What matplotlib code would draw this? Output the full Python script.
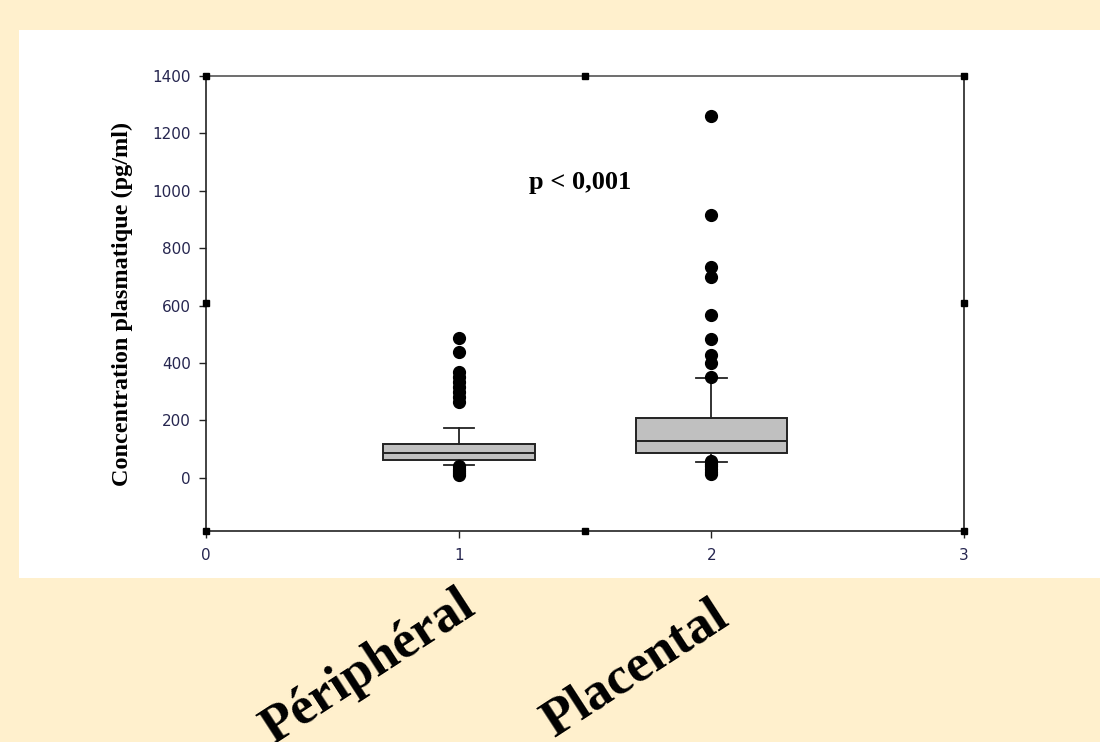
import numpy as np
import matplotlib
matplotlib.use("Agg")
import matplotlib.pyplot as plt
from matplotlib.patches import Rectangle

# data (pg/ml)
groups = ["Périphéral", "Placental"]
positions = [1, 2]
q1 = [63, 86]
med = [86, 129]
q3 = [118, 208]
whis_lo = [44, 55]
whis_hi = [175, 347]
fliers_per = [487, 438, 370, 352, 335, 318, 300, 283, 266, 40, 32, 25, 18, 10]
fliers_pla = [1259, 916, 736, 701, 568, 483, 429, 400, 353, 60, 50, 40, 30, 22, 15]
yticks = [0, 200, 400, 600, 800, 1000, 1200, 1400]
xticks = [0, 1, 2, 3]
ptext = "p < 0,001"

cream = "#FFF0CD"
tick_col = "#262650"

fig = plt.figure(figsize=(11, 7.42), dpi=100)
fig.patch.set_facecolor(cream)
# white panel behind the plot
fig.patches.append(Rectangle((0.0173, 0.221), 1.0, 0.7386, transform=fig.transFigure,
                             facecolor="white", edgecolor="none", zorder=-10))

ax = fig.add_axes([0.1873, 0.2844, 0.6891, 0.6132])
ax.set_facecolor("white")

stats = []
fl = [fliers_per, fliers_pla]
for i in range(2):
    stats.append(dict(med=med[i], q1=q1[i], q3=q3[i], whislo=whis_lo[i],
                      whishi=whis_hi[i], fliers=fl[i], label=groups[i]))

ax.bxp(stats, positions=positions, widths=0.6, capwidths=0.12, patch_artist=True,
       boxprops=dict(facecolor="#C0C0C0", edgecolor="#222222", linewidth=1.4),
       medianprops=dict(color="#222222", linewidth=1.4),
       whiskerprops=dict(color="#222222", linewidth=1.3),
       capprops=dict(color="#222222", linewidth=1.3),
       flierprops=dict(marker="o", markerfacecolor="black", markeredgecolor="black",
                       markersize=8.5))

ax.set_xlim(0, 3)
ax.set_ylim(-185, 1400)
ax.set_xticks(xticks)
ax.set_xticklabels([str(x) for x in xticks])
ax.set_yticks(yticks)
ax.set_yticklabels([str(y) for y in yticks])
ax.tick_params(direction="out", length=5, width=1, colors="#222222",
               labelcolor=tick_col, labelsize=11)
ax.tick_params(axis="x", pad=7)
ax.tick_params(axis="y", pad=6)
for s in ax.spines.values():
    s.set_color("#222222")
    s.set_linewidth(1.2)
ax.spines["top"].set_color("#555555")

# small black squares at corners and mid points (SigmaPlot style)
ymid = (-185 + 1400) / 2
sq_x = [0, 1.5, 3, 0, 3, 0, 1.5, 3]
sq_y = [1400, 1400, 1400, ymid, ymid, -185, -185, -185]
ax.plot(sq_x, sq_y, "s", color="black", markersize=4.5, clip_on=False, zorder=5)

ax.set_ylabel("Concentration plasmatique (pg/ml)", family="Liberation Serif",
              fontweight="bold", fontsize=17.5, labelpad=14)
ax.text(1.48, 1028, ptext, family="Liberation Serif", fontweight="bold",
        fontsize=19, ha="center", va="center")

# rotated group names under the panel
fig.text(0.248, -0.004, groups[0], family="Liberation Serif", fontweight="bold",
         fontsize=38.5, rotation=33, rotation_mode="anchor", ha="left", va="baseline")
fig.text(0.503, 0.006, groups[1], family="Liberation Serif", fontweight="bold",
         fontsize=38.5, rotation=33, rotation_mode="anchor", ha="left", va="baseline")

fig.savefig("out.png", dpi=100, facecolor=cream)
